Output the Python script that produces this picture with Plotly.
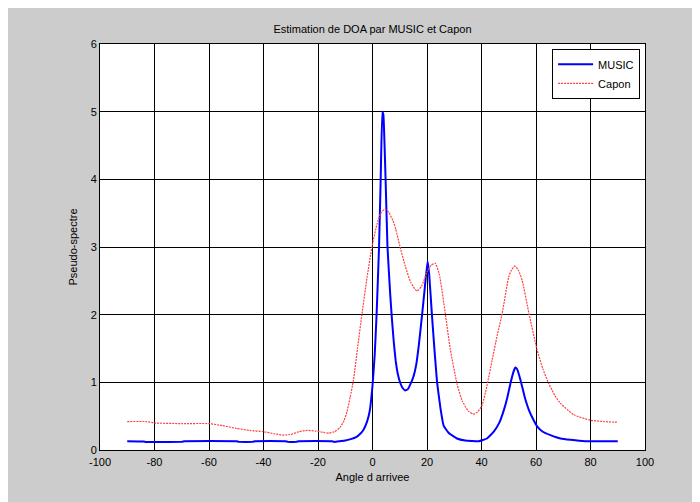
import plotly.graph_objects as go

# MUSIC pseudo-spectrum
music_x = [-90, -84, -83, -70, -69, -50, -49, -44, -43, -32, -31, -28, -27, -15, -14, -12, -10, -8, -6, -4.5,
           -3.3, -2, -1, 0, 0.8, 1.5, 2.4, 3.0, 3.6, 4.0, 4.8, 5.5, 6.5, 7.1, 7.8, 8.5, 9.3, 10.2, 11, 12, 13,
           14, 15, 16, 17, 18.2, 19.2, 20.2, 20.8, 21.8, 22.8, 23.7, 25, 26.1, 28, 31, 34, 39, 42, 44.5, 46.5,
           48.2, 49.5, 50.6, 51.7, 52.4, 53, 54, 54.9, 56, 57.4, 59, 60.4, 62.5, 65.3, 69, 72.7, 78, 90]
music_y = [0.13, 0.125, 0.12, 0.12, 0.13, 0.13, 0.12, 0.12, 0.13, 0.13, 0.12, 0.12, 0.13, 0.13, 0.12, 0.13, 0.14, 0.16, 0.19, 0.24,
           0.30, 0.42, 0.58, 0.95, 1.4, 2.0, 3.0, 4.0, 5.0, 4.95, 4.0, 3.0, 2.3, 1.95, 1.6, 1.32, 1.12, 0.99, 0.92, 0.88, 0.9,
           0.98, 1.08, 1.25, 1.55, 2.0, 2.4, 2.79, 2.6, 2.0, 1.45, 1.0, 0.6, 0.36, 0.25, 0.17, 0.14, 0.13, 0.17, 0.27, 0.4,
           0.59, 0.78, 0.98, 1.15, 1.22, 1.2, 1.08, 0.94, 0.76, 0.59, 0.45, 0.35, 0.27, 0.22, 0.17, 0.15, 0.13, 0.13]

# Capon pseudo-spectrum
capon_x = [-90, -83, -80, -70, -60, -55, -50, -45, -40, -36, -33, -30, -27, -24, -21, -18, -16, -14, -12, -10.5,
           -9.4, -8.2, -7, -5.5, -3.9, -2, -0.2, 1.6, 3, 4.5, 6, 7.5, 8.5, 10, 12, 14, 16.3, 18, 20, 21.5,
           23, 24.5, 26.7, 28.5, 31, 33, 35.3, 37, 38.5, 40.2, 42, 43.9, 45.8, 47.6, 50, 51, 52.2, 53.5, 54.9, 57.4,
           60.4, 62.5, 64.7, 67, 69, 73.9, 80, 85, 90]
capon_y = [0.42, 0.42, 0.40, 0.39, 0.39, 0.36, 0.32, 0.29, 0.27, 0.24, 0.22, 0.23, 0.27, 0.29, 0.28, 0.26, 0.25, 0.27, 0.33, 0.43,
           0.56, 0.78, 1.03, 1.5, 2.0, 2.55, 3.0, 3.33, 3.5, 3.56, 3.51, 3.39, 3.27, 3.02, 2.72, 2.48, 2.35, 2.42, 2.63, 2.73,
           2.76, 2.6, 2.02, 1.5, 0.98, 0.72, 0.57, 0.53, 0.56, 0.66, 0.95, 1.33, 1.7, 2.02, 2.56, 2.66, 2.72, 2.66, 2.51, 2.02,
           1.48, 1.2, 0.98, 0.8, 0.69, 0.52, 0.44, 0.42, 0.41]

x_ticks = [-100, -80, -60, -40, -20, 0, 20, 40, 60, 80, 100]
y_ticks = [0, 1, 2, 3, 4, 5, 6]

fig = go.Figure()
fig.add_trace(go.Scatter(x=music_x, y=music_y, mode="lines", name="MUSIC",
                         line=dict(color="#0000ff", width=2, shape="spline", smoothing=0.3)))
fig.add_trace(go.Scatter(x=capon_x, y=capon_y, mode="lines", name="Capon",
                         line=dict(color="#ff4040", width=1.2, dash="2px,1px", shape="spline", smoothing=0.5)))

font = dict(family="Liberation Sans, Arial, sans-serif", size=11, color="black")

fig.update_layout(
    template="none",
    width=700, height=502,
    paper_bgcolor="#cccccc", plot_bgcolor="white",
    margin=dict(l=92, r=63, t=36, b=60),
    font=font,
    title=dict(text="Estimation de DOA par MUSIC et Capon", x=0.5, xref="paper", xanchor="center",
               y=1, yref="container", yanchor="top", pad=dict(t=17), font=dict(size=11)),
    xaxis=dict(range=[-100, 100], tickvals=x_ticks, ticktext=[str(v) for v in x_ticks],
               showgrid=True, gridcolor="black", gridwidth=1, zeroline=False,
               showline=True, linecolor="black", linewidth=1, mirror="ticks",
               ticks="inside", ticklen=5, tickcolor="black", ticklabelstandoff=2,
               title=dict(text="Angle d arrivee", standoff=6, font=dict(size=11)), tickfont=dict(size=11)),
    yaxis=dict(range=[0, 6], tickvals=y_ticks, ticktext=[str(v) for v in y_ticks],
               showgrid=True, gridcolor="black", gridwidth=1, zeroline=False,
               showline=True, linecolor="black", linewidth=1, mirror="ticks",
               ticks="inside", ticklen=5, tickcolor="black",
               title=dict(text="Pseudo-spectre", standoff=10, font=dict(size=11)), tickfont=dict(size=11)),
    legend=dict(x=0.991, y=0.988, xanchor="right", yanchor="top", bgcolor="white",
                bordercolor="black", borderwidth=1, font=dict(size=11), tracegroupgap=0,
                itemwidth=35),
    showlegend=True,
)

fig.write_html("out.html")
